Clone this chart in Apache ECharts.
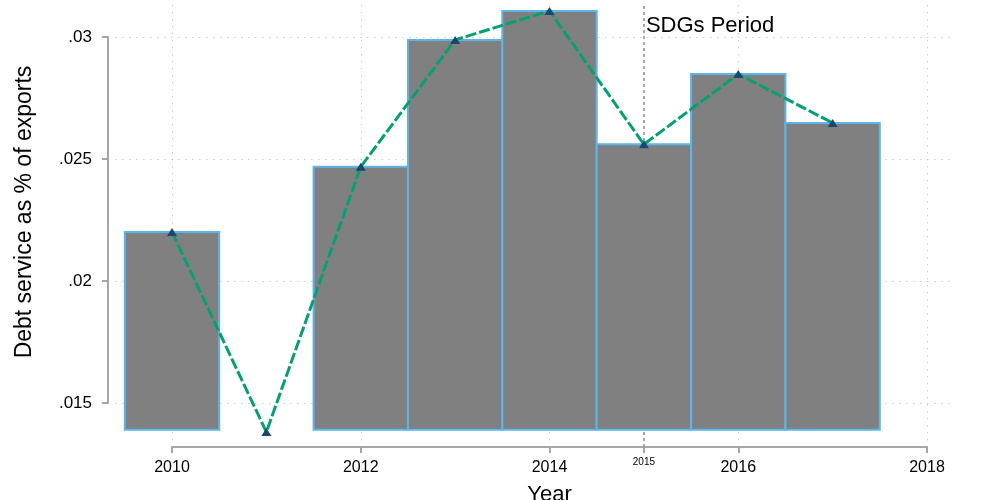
<!DOCTYPE html>
<html>
<head>
<meta charset="utf-8">
<title>Debt service as % of exports</title>
<script src="https://cdn.jsdelivr.net/npm/echarts@6/dist/echarts.min.js"></script>
<style>
  html, body { margin: 0; padding: 0; background: #fff; }
  #chart { width: 985px; height: 500px; }
</style>
</head>
<body>
<div id="chart"></div>
<script>
// Debt service as a share of exports, by year
const years = [2010, 2011, 2012, 2013, 2014, 2015, 2016, 2017];
const debtShare = [0.02201, 0.01381, 0.02468, 0.02988, 0.03107, 0.0256, 0.02848, 0.02648];
const barBase = 0.0139;

// Axis ticks
const xTicks = [2010, 2012, 2014, 2016, 2018];
const xExtraTick = [2015];
const yTicks = [0.015, 0.02, 0.025, 0.03];

// Annotation
const sdgStart = 2015;
const sdgLabelY = 0.03045;
const sdgText = 'SDGs Period';

// ---- layout ----
const W = 985, H = 500;
const FONT = '"Liberation Sans", Arial, sans-serif';
const axisPx = { left: 172, right: 927, top: 37, bottom: 403 };   // pixel spots of the end ticks
const xAxisLineY = 447;
const yAxisLineX = 108;
const xExt = [xTicks[0], xTicks[xTicks.length - 1]];
const yExt = [yTicks[0], yTicks[yTicks.length - 1]];
const pxPerX = (axisPx.right - axisPx.left) / (xExt[1] - xExt[0]);
const pxPerY = (axisPx.bottom - axisPx.top) / (yExt[1] - yExt[0]);
// plot region (data grid) extent in data units
const plotX = [2009.4, 2018.25];
const plotY = [yExt[0] - (xAxisLineY - axisPx.bottom) / pxPerY, 0.0313];

const plotGrid = {
  left: axisPx.left - (xExt[0] - plotX[0]) * pxPerX,
  right: W - (axisPx.right + (plotX[1] - xExt[1]) * pxPerX),
  top: axisPx.top - (plotY[1] - yExt[1]) * pxPerY,
  bottom: H - xAxisLineY,
  containLabel: false,
  outerBoundsMode: 'none'
};

const axisGray = '#a6a6a6';
const gridDots = { color: '#b4b4b4', width: 1, type: [1, 6] };

const chart = echarts.init(document.getElementById('chart'), null, { renderer: 'canvas' });

chart.setOption({
  animation: false,
  backgroundColor: '#ffffff',
  textStyle: { fontFamily: FONT },
  grid: [
    // axes frame
    {
      left: axisPx.left, right: W - axisPx.right, top: axisPx.top, bottom: H - axisPx.bottom,
      containLabel: false, outerBoundsMode: 'none'
    },
    // plot region
    plotGrid
  ],
  xAxis: [
    {
      gridIndex: 0, type: 'value', min: xExt[0], max: xExt[1], interval: 2,
      position: 'bottom', offset: xAxisLineY - axisPx.bottom,
      name: 'Year', nameLocation: 'middle', nameGap: 37,
      nameTextStyle: { fontFamily: FONT, fontSize: 22, color: '#000' },
      axisLine: { show: true, lineStyle: { color: axisGray, width: 2 } },
      axisTick: { show: true, length: 6, customValues: xTicks, lineStyle: { color: axisGray, width: 2 } },
      axisLabel: {
        customValues: xTicks, margin: 13, fontFamily: FONT, fontSize: 16, color: '#000',
        formatter: v => String(v)
      },
      splitLine: { show: false }
    },
    {
      gridIndex: 0, type: 'value', min: xExt[0], max: xExt[1], interval: 2,
      position: 'bottom', offset: xAxisLineY - axisPx.bottom,
      axisLine: { show: false },
      axisTick: { show: true, length: 6, customValues: xExtraTick, lineStyle: { color: axisGray, width: 2 } },
      axisLabel: {
        customValues: xExtraTick, margin: 10, fontFamily: FONT, fontSize: 10, color: '#000',
        formatter: v => String(v)
      },
      splitLine: { show: false }
    },
    {
      gridIndex: 1, type: 'value', min: plotX[0], max: plotX[1],
      axisLine: { show: false },
      axisTick: { show: false, customValues: xTicks },
      axisLabel: { show: false, customValues: xTicks },
      splitLine: { show: true, lineStyle: gridDots }
    }
  ],
  yAxis: [
    {
      gridIndex: 0, type: 'value', min: yExt[0], max: yExt[1], interval: 0.005,
      position: 'left', offset: axisPx.left - yAxisLineX,
      name: 'Debt service as % of exports', nameLocation: 'middle', nameGap: 72,
      nameTextStyle: { fontFamily: FONT, fontSize: 23, color: '#000', padding: [0, 0, 0, 16] },
      axisLine: { show: true, lineStyle: { color: axisGray, width: 2 } },
      axisTick: { show: true, length: 6, customValues: yTicks, lineStyle: { color: axisGray, width: 2 } },
      axisLabel: {
        customValues: yTicks, margin: 16, fontFamily: FONT, fontSize: 17, color: '#000',
        formatter: v => String(+(+v).toFixed(3)).replace(/^0\./, '.')
      },
      splitLine: { show: false }
    },
    {
      gridIndex: 1, type: 'value', min: plotY[0], max: plotY[1],
      axisLine: { show: false },
      axisTick: { show: false, customValues: yTicks },
      axisLabel: { show: false, customValues: yTicks },
      splitLine: { show: true, lineStyle: gridDots }
    }
  ],
  series: [
    {
      // SDG period divider, drawn beneath the bars
      type: 'line', xAxisIndex: 2, yAxisIndex: 1, z: 1,
      data: [], silent: true,
      markLine: {
        z: 1, silent: true, symbol: 'none',
        label: { show: false },
        lineStyle: { color: '#8c8c8c', width: 1.5, type: [3, 3] },
        data: [{ xAxis: sdgStart }]
      }
    },
    {
      type: 'custom', name: 'Debt service', xAxisIndex: 2, yAxisIndex: 1, z: 2,
      data: years.map((y, i) => [y, debtShare[i]]),
      renderItem: function (params, api) {
        const x = api.value(0), v = api.value(1);
        if (v <= barBase) return null;   // nothing above the base line
        const p0 = api.coord([x - 0.5, barBase]);
        const p1 = api.coord([x + 0.5, v]);
        return {
          type: 'rect',
          shape: { x: p0[0], y: p1[1], width: p1[0] - p0[0], height: p0[1] - p1[1] },
          style: { fill: '#808080', stroke: '#5cb5e9', lineWidth: 2 }
        };
      }
    },
    {
      type: 'line', name: 'Trend', xAxisIndex: 2, yAxisIndex: 1, z: 3,
      data: years.map((y, i) => [y, debtShare[i]]),
      symbol: 'triangle', symbolSize: [10, 8],
      itemStyle: { color: '#1a476f' },
      lineStyle: { color: '#00a274', width: 3, type: [11, 3] },
      markPoint: {
        symbol: 'circle', symbolSize: 0,
        label: {
          show: true, position: 'right', distance: 2,
          formatter: sdgText, fontFamily: FONT, fontSize: 22, color: '#000'
        },
        data: [{ coord: [sdgStart, sdgLabelY] }]
      }
    }
  ]
});
</script>
</body>
</html>
